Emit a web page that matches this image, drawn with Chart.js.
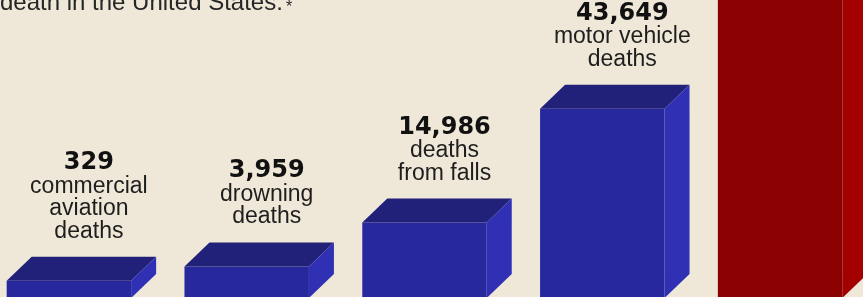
<!DOCTYPE html>
<html>
<head>
<meta charset="utf-8">
<script src="https://cdn.jsdelivr.net/npm/chart.js"></script>
<style>
  html, body { margin: 0; padding: 0; background: #efe7d8; overflow: hidden; }
  #wrap { position: absolute; left: -20px; top: 0; width: 889px; height: 298px; }
</style>
</head>
<body>
<div id="wrap"><canvas id="deathsChart" width="889" height="298"></canvas></div>
<script>
// Values read off the graphic (the red bar runs off the top, its value is a guess)
const categories = ['commercial aviation deaths', 'drowning deaths', 'deaths from falls', 'motor vehicle deaths', 'medical error deaths'];
const labelLines = [['commercial', 'aviation', 'deaths'], ['drowning', 'deaths'], ['deaths', 'from falls'], ['motor vehicle', 'deaths'], ['medical error', 'deaths']];
const deaths = [329, 3959, 14986, 43649, 98000];
const valueLabels = ['329', '3,959', '14,986', '43,649', '98,000'];

// front / top / side face colours
const frontColors = ['#28289e', '#28289e', '#28289e', '#28289e', '#8b0000'];
const topColors = ['#22217a', '#22217a', '#22217a', '#22217a', '#6e0000'];
const sideColors = ['#3030b5', '#3030b5', '#3030b5', '#3030b5', '#a30000'];

const depthX = 25, depthY = 24;

// draws the top and right-hand faces of every bar
const box3d = {
  id: 'box3d',
  afterDatasetsDraw(chart) {
    const ctx = chart.ctx;
    chart.getDatasetMeta(0).data.forEach((bar, i) => {
      const { x, y, base, width } = bar.getProps(['x', 'y', 'base', 'width'], true);
      const l = x - width / 2, r = x + width / 2;
      ctx.save();
      ctx.fillStyle = topColors[i];
      ctx.beginPath();
      ctx.moveTo(l, y);
      ctx.lineTo(l + depthX, y - depthY);
      ctx.lineTo(r + depthX, y - depthY);
      ctx.lineTo(r, y);
      ctx.closePath();
      ctx.fill();
      ctx.fillStyle = sideColors[i];
      ctx.beginPath();
      ctx.moveTo(r, y);
      ctx.lineTo(r + depthX, y - depthY);
      ctx.lineTo(r + depthX, base - depthY);
      ctx.lineTo(r, base);
      ctx.closePath();
      ctx.fill();
      ctx.restore();
    });
  }
};

// number and description above each bar
const barLabels = {
  id: 'barLabels',
  afterDatasetsDraw(chart) {
    const ctx = chart.ctx;
    ctx.save();
    ctx.textAlign = 'center';
    ctx.textBaseline = 'alphabetic';
    chart.getDatasetMeta(0).data.forEach((bar, i) => {
      const { x, y } = bar.getProps(['x', 'y'], true);
      const cx = x + 20;
      const lines = labelLines[i];
      let yy = y - depthY - 19 - (lines.length - 1) * 22.5;
      ctx.fillStyle = '#111';
      ctx.font = 'bold 24px "DejaVu Sans"';
      ctx.fillText(valueLabels[i], cx, yy - 23.5);
      ctx.fillStyle = '#1e1e1e';
      ctx.font = '23px "Liberation Sans"';
      lines.forEach(t => {
        ctx.fillText(t, cx, yy);
        yy += 22.5;
      });
    });
    ctx.restore();
  }
};

// tail of the intro sentence, cut off at the top
const caption = {
  id: 'caption',
  afterDraw(chart) {
    const ctx = chart.ctx;
    ctx.save();
    ctx.fillStyle = '#262626';
    ctx.font = '24px "Liberation Sans"';
    ctx.textAlign = 'left';
    ctx.fillText('death in the United States.', 20, 10);
    ctx.font = '16px "Liberation Sans"';
    ctx.fillText('*', 306, 12);
    ctx.restore();
  }
};

new Chart(document.getElementById('deathsChart'), {
  type: 'bar',
  data: {
    labels: categories,
    datasets: [{
      data: deaths,
      base: -4000,
      backgroundColor: frontColors,
      borderWidth: 0,
      categoryPercentage: 1,
      barPercentage: 0.7
    }]
  },
  options: {
    responsive: false,
    animation: false,
    devicePixelRatio: 1,
    layout: { padding: 0 },
    plugins: {
      legend: { display: false },
      tooltip: { enabled: false }
    },
    scales: {
      x: { display: false },
      y: { display: false, min: -4000, max: 71000 }
    }
  },
  plugins: [box3d, barLabels, caption]
});
</script>
</body>
</html>
